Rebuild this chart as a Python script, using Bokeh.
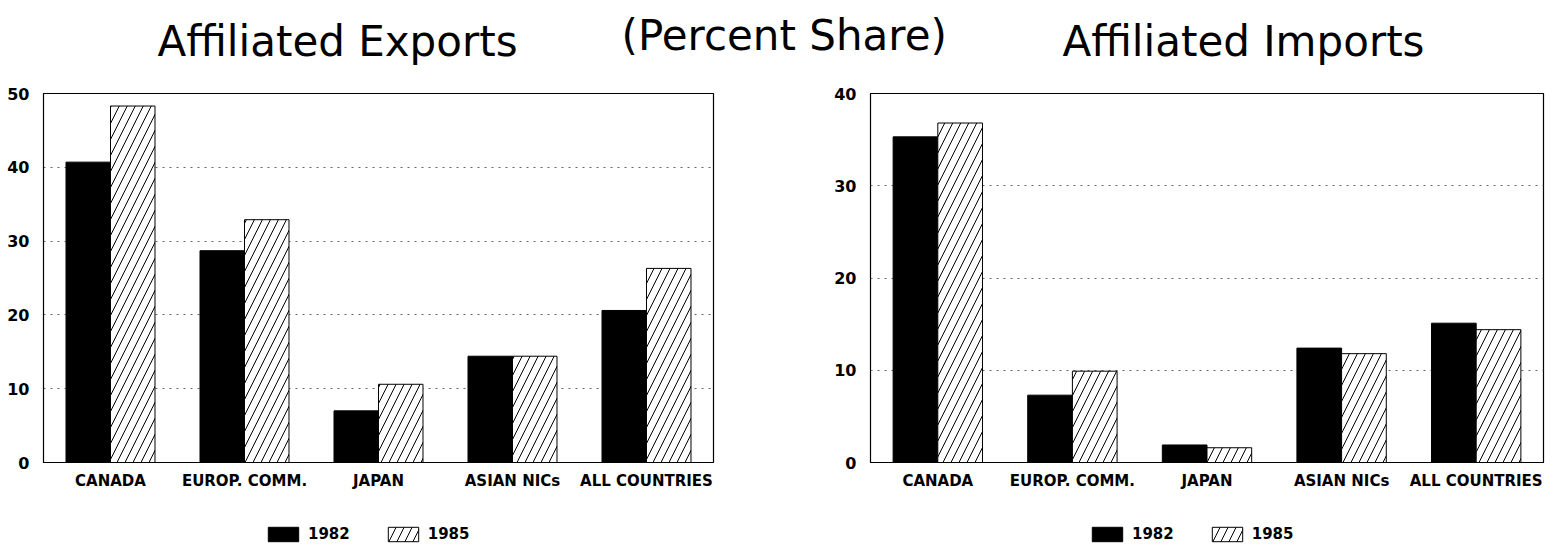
from bokeh.plotting import figure
from bokeh.layouts import column, row
from bokeh.models import (ColumnDataSource, FactorRange, Range1d, FixedTicker,
                          Legend, LegendItem)
from bokeh.transform import dodge
from bokeh.embed import file_html
from bokeh.resources import INLINE

# ---------------- data ----------------
categories = ["CANADA", "EUROP. COMM.", "JAPAN", "ASIAN NICs", "ALL COUNTRIES"]
years = ["1982", "1985"]
exports_1982 = [40.7, 28.7, 7.0, 14.4, 20.6]
exports_1985 = [48.3, 32.9, 10.6, 14.4, 26.3]
imports_1982 = [35.3, 7.3, 1.9, 12.4, 15.1]
imports_1985 = [36.8, 9.9, 1.6, 11.8, 14.4]
exports_ticks = [0, 10, 20, 30, 40, 50]
imports_ticks = [0, 10, 20, 30, 40]
titles = ["Affiliated Exports", "(Percent Share)", "Affiliated Imports"]

FONT = "DejaVu Sans"
BAR82 = dict(fill_color="black", line_color="black", line_width=1)
BAR85 = dict(fill_color="white", line_color="black", line_width=1,
             hatch_pattern="/", hatch_color="black", hatch_scale=16, hatch_weight=1)


# ---------------- title strip (three blank figures carrying titles) ----------------
def make_title(text, width, offset, top, valign, standoff):
    t = figure(width=width, height=78, title=text, x_axis_type=None, y_axis_type=None,
               output_backend="svg", toolbar_location=None,
               min_border_top=top, min_border_bottom=0, min_border_left=0,
               min_border_right=0)
    t.outline_line_color = None
    t.title.text_font = FONT
    t.title.text_font_size = "42px"
    t.title.text_font_style = "normal"
    t.title.text_color = "black"
    t.title.align = "left"
    t.title.offset = offset
    t.title.standoff = standoff
    t.title.vertical_align = valign
    return t


t1 = make_title(titles[0], 600, 157, 70, "bottom", 10)
t2 = make_title(titles[1], 400, 21, 0, "top", 18)
t3 = make_title(titles[2], 556, 62, 70, "bottom", 10)


def make_chart(v82, v85, ticks, ymax, width, mbl, mbr):
    src = ColumnDataSource(dict(cat=categories, y82=v82, y85=v85))
    p = figure(width=width, height=432, x_range=FactorRange(*categories, range_padding=0),
               y_range=Range1d(0, ymax), output_backend="svg", toolbar_location=None,
               min_border_left=mbl, min_border_right=mbr,
               min_border_top=15, min_border_bottom=48)
    p.background_fill_color = "white"
    p.outline_line_color = "black"
    p.outline_line_width = 1.2

    p.vbar(x=dodge("cat", -0.166, range=p.x_range), top="y82", width=0.332,
           source=src, **BAR82)
    p.vbar(x=dodge("cat", 0.166, range=p.x_range), top="y85", width=0.332,
           source=src, **BAR85)

    p.xgrid.grid_line_color = None
    p.ygrid.ticker = FixedTicker(ticks=ticks[1:-1])
    p.ygrid.grid_line_color = "#666666"
    p.ygrid.grid_line_dash = "2 5"
    p.ygrid.grid_line_width = 1

    p.yaxis.ticker = FixedTicker(ticks=ticks)
    p.yaxis.major_label_text_font = FONT
    p.yaxis.major_label_text_font_style = "bold"
    p.yaxis.major_label_text_font_size = "16px"
    p.yaxis.major_label_text_color = "black"
    p.yaxis.major_label_standoff = 8
    p.yaxis.major_tick_line_color = None
    p.yaxis.minor_tick_line_color = None
    p.yaxis.axis_line_color = "black"

    p.xaxis.major_label_text_font = FONT
    p.xaxis.major_label_text_font_style = "bold"
    p.xaxis.major_label_text_font_size = "15px"
    p.xaxis.major_label_text_color = "black"
    p.xaxis.major_label_standoff = 3
    p.xaxis.major_tick_line_color = None
    p.xaxis.minor_tick_line_color = None
    p.xaxis.axis_line_color = "black"
    return p


def make_legend(width, leg_x):
    lf = figure(width=width, height=41, x_axis_type=None, y_axis_type=None,
                x_range=Range1d(0, 1), y_range=Range1d(0, 1),
                output_backend="svg", toolbar_location=None, min_border=0)
    lf.outline_line_color = None
    # off-range swatch carriers so the legend can draw its glyphs
    e82 = lf.vbar(x=[10], top=[10], width=0.3, **BAR82)
    e85 = lf.vbar(x=[10], top=[10], width=0.3, **BAR85)
    legend = Legend(items=[LegendItem(label=years[0], renderers=[e82]),
                           LegendItem(label=years[1], renderers=[e85])],
                    orientation="horizontal", location=(leg_x, 8),
                    glyph_width=38, glyph_height=18, label_standoff=6, spacing=34,
                    padding=0, margin=0, border_line_color=None,
                    background_fill_alpha=0, label_height=18,
                    label_text_font=FONT, label_text_font_style="bold",
                    label_text_font_size="15px", label_text_color="black")
    lf.add_layout(legend)
    return lf


f1 = make_chart(exports_1982, exports_1985, exports_ticks, 50, 778, 43, 65)
f2 = make_chart(imports_1982, imports_1985, imports_ticks, 40, 778, 92, 13)
l1 = make_legend(778, 264)
l2 = make_legend(778, 310)

layout = column(row(t1, t2, t3), row(f1, f2), row(l1, l2))
open("out.html", "w").write(file_html(layout, INLINE))
